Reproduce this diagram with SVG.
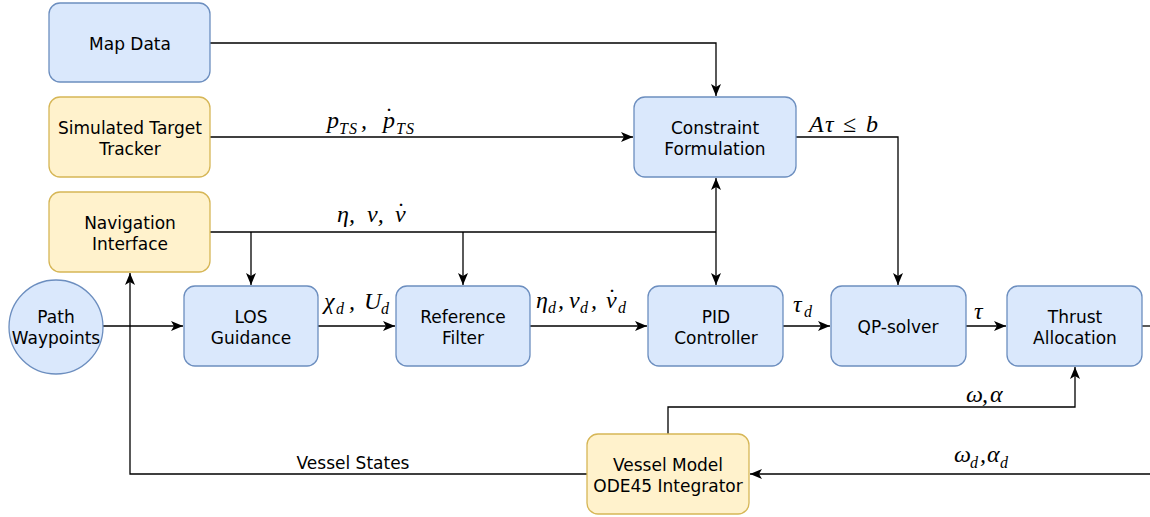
<svg xmlns="http://www.w3.org/2000/svg" width="1150" height="517" viewBox="0 0 1150 517">
<style>
.blue{fill:#dae8fc;stroke:#6c8ebf;stroke-width:1.3}
.yel{fill:#fff2cc;stroke:#d6b656;stroke-width:1.3}
.t{font-family:"DejaVu Sans",sans-serif;font-size:17px;fill:#000;text-anchor:middle}
.m{font-family:"Liberation Serif",serif;font-style:italic;font-size:24px;fill:#000}
.s{font-size:16px}
.ls{letter-spacing:1px}
.u{font-style:normal}
.c{fill:none;stroke:#000;stroke-width:1.3}
</style>
<defs>
<marker id="a" viewBox="0 0 12 10" refX="12" refY="5" markerWidth="12" markerHeight="10" markerUnits="userSpaceOnUse" orient="auto">
<path d="M0,0 L12,5 L0,10 L3,5 z" fill="#000"/>
</marker>
</defs>
<g id="connectors">
<path class="c" d="M210,43 H716 V96" marker-end="url(#a)"/>
<path class="c" d="M210,137 H633" marker-end="url(#a)"/>
<path class="c" d="M796,137 H898 V285" marker-end="url(#a)"/>
<path class="c" d="M210,232 H716"/>
<path class="c" d="M251,232 V285" marker-end="url(#a)"/>
<path class="c" d="M463,232 V285" marker-end="url(#a)"/>
<path class="c" d="M716,232 V178" marker-end="url(#a)"/>
<path class="c" d="M716,232 V285" marker-end="url(#a)"/>
<path class="c" d="M103,326 H183" marker-end="url(#a)"/>
<path class="c" d="M318,326 H395" marker-end="url(#a)"/>
<path class="c" d="M530,326 H647" marker-end="url(#a)"/>
<path class="c" d="M783,326 H830" marker-end="url(#a)"/>
<path class="c" d="M966,326 H1006" marker-end="url(#a)"/>
<path class="c" d="M1142,326 H1150"/>
<path class="c" d="M668,434 V407 H1075 V367" marker-end="url(#a)"/>
<path class="c" d="M1150,474 H750" marker-end="url(#a)"/>
<path class="c" d="M587,474 H130 V273" marker-end="url(#a)"/>
<text class="m"><tspan x="327" y="128">p</tspan><tspan class="s ls" x="339" y="134">TS</tspan><tspan x="361" y="128">,</tspan><tspan x="383" y="128">p</tspan><tspan class="u" x="385" y="124">˙</tspan><tspan class="s ls" x="396" y="134">TS</tspan></text>
<text class="m"><tspan x="809" y="132">A</tspan><tspan x="825" y="132">τ</tspan><tspan class="u" x="843" y="132">≤</tspan><tspan x="866" y="132">b</tspan></text>
<text class="m"><tspan x="337" y="222">η,</tspan><tspan x="367" y="222">ν,</tspan><tspan x="395" y="222">ν</tspan><tspan class="u" x="397" y="219">˙</tspan></text>
<text class="m"><tspan x="324" y="309">χ</tspan><tspan class="s" x="336" y="314">d</tspan><tspan x="349" y="309">,</tspan><tspan x="364" y="309">U</tspan><tspan class="s" x="381" y="314">d</tspan></text>
<text class="m"><tspan x="536" y="308">η</tspan><tspan class="s" x="548" y="313">d</tspan><tspan x="558" y="308">,</tspan><tspan x="569" y="308">ν</tspan><tspan class="s" x="580" y="313">d</tspan><tspan x="591" y="308">,</tspan><tspan x="606" y="308">ν</tspan><tspan class="u" x="608" y="305">˙</tspan><tspan class="s" x="618" y="313">d</tspan></text>
<text class="m"><tspan x="793" y="312">τ</tspan><tspan class="s" x="804" y="317">d</tspan></text>
<text class="m" x="974" y="319">τ</text>
<text class="m"><tspan x="966" y="402">ω</tspan><tspan x="982" y="402">,</tspan><tspan x="990" y="402">α</tspan></text>
<text class="m"><tspan x="954" y="462">ω</tspan><tspan class="s" x="970" y="468">d</tspan><tspan x="980" y="462">,</tspan><tspan x="987" y="462">α</tspan><tspan class="s" x="1000" y="468">d</tspan></text>
<text class="t" x="353" y="469">Vessel States</text>
</g>
<g id="map-data"><rect class="blue" x="49" y="3" width="161" height="79" rx="11"/><text class="t" x="130" y="50">Map Data</text></g>
<g id="target-tracker"><rect class="yel" x="49" y="97" width="161" height="80" rx="11"/><text class="t" x="130" y="134">Simulated Target</text><text class="t" x="130" y="155">Tracker</text></g>
<g id="nav-interface"><rect class="yel" x="49" y="192" width="161" height="80" rx="11"/><text class="t" x="130" y="229">Navigation</text><text class="t" x="130" y="250">Interface</text></g>
<g id="path-waypoints"><circle class="blue" cx="56" cy="327" r="47"/><text class="t" x="56" y="323">Path</text><text class="t" x="56" y="344">Waypoints</text></g>
<g id="los-guidance"><rect class="blue" x="184" y="286" width="134" height="80" rx="11"/><text class="t" x="251" y="323">LOS</text><text class="t" x="251" y="344">Guidance</text></g>
<g id="reference-filter"><rect class="blue" x="396" y="286" width="134" height="80" rx="11"/><text class="t" x="463" y="323">Reference</text><text class="t" x="463" y="344">Filter</text></g>
<g id="pid-controller"><rect class="blue" x="648" y="286" width="135" height="80" rx="11"/><text class="t" x="716" y="323">PID</text><text class="t" x="716" y="344">Controller</text></g>
<g id="qp-solver"><rect class="blue" x="831" y="286" width="135" height="80" rx="11"/><text class="t" x="898" y="333">QP-solver</text></g>
<g id="thrust-allocation"><rect class="blue" x="1007" y="286" width="135" height="80" rx="11"/><text class="t" x="1075" y="323">Thrust</text><text class="t" x="1075" y="344">Allocation</text></g>
<g id="constraint-formulation"><rect class="blue" x="634" y="97" width="162" height="80" rx="11"/><text class="t" x="715" y="134">Constraint</text><text class="t" x="715" y="155">Formulation</text></g>
<g id="vessel-model"><rect class="yel" x="587" y="434" width="162" height="80" rx="11"/><text class="t" x="668" y="471">Vessel Model</text><text class="t" x="668" y="492">ODE45 Integrator</text></g>
</svg>
